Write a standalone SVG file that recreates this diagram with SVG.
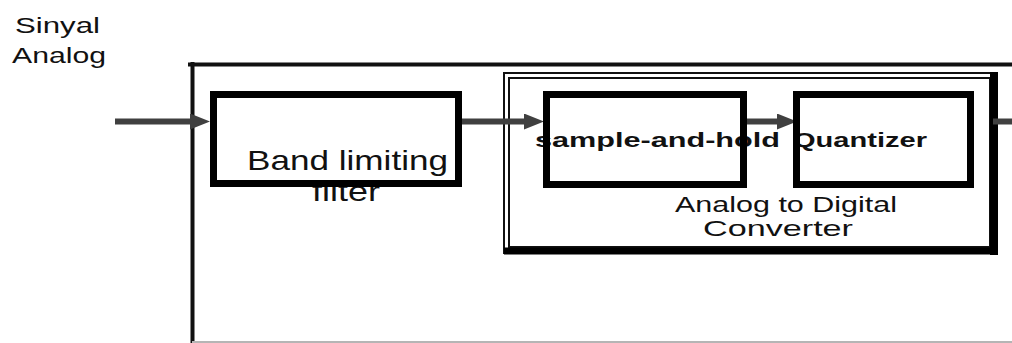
<svg xmlns="http://www.w3.org/2000/svg" width="1012" height="343" viewBox="0 0 1012 343">
<defs>
<style>
.t{font-family:"Liberation Sans",Arial,sans-serif;fill:#111;}
.b{font-weight:bold;}
.box{fill:none;stroke:#000;stroke-width:7;}
.conn{stroke:#404040;stroke-width:6;fill:none;}
.frame{stroke:#111;stroke-width:4;fill:none;}
.thin{stroke:#111;stroke-width:2;fill:none;}
</style>
<marker id="ah" viewBox="0 0 20 16" refX="0" refY="8" markerWidth="20" markerHeight="16" markerUnits="userSpaceOnUse" orient="auto">
<path d="M0,0 L20,8 L0,16 z" fill="#404040"/>
</marker>
</defs>
<rect width="1012" height="343" fill="#fff"/>
<g id="system-frame">
<line class="frame" x1="192.5" y1="62" x2="192.5" y2="343"/>
<line class="frame" x1="188" y1="64.5" x2="1012" y2="64.5"/>
<line x1="192" y1="342" x2="1012" y2="342" stroke="#b5b5b5" stroke-width="2"/>
</g>
<g id="label-sinyal">
<text class="t" x="15" y="33" font-size="22" textLength="85" lengthAdjust="spacingAndGlyphs">Sinyal</text>
<text class="t" x="12" y="63" font-size="22" textLength="94" lengthAdjust="spacingAndGlyphs">Analog</text>
</g>
<g id="adc">
<rect class="thin" x="504" y="73" width="492" height="180"/>
<rect class="thin" x="509" y="78" width="481" height="169"/>
<line x1="994" y1="72" x2="994" y2="255" stroke="#000" stroke-width="8"/>
<line x1="504" y1="251" x2="998" y2="251" stroke="#000" stroke-width="7"/>
<text class="t" x="675" y="212" font-size="22" textLength="222" lengthAdjust="spacingAndGlyphs">Analog to Digital</text>
<text class="t" x="703" y="236" font-size="22" textLength="150" lengthAdjust="spacingAndGlyphs">Converter</text>
</g>
<g id="connectors">
<line class="conn" x1="115" y1="121.5" x2="190" y2="121.5" marker-end="url(#ah)"/>
<line class="conn" x1="462" y1="121.5" x2="524" y2="121.5" marker-end="url(#ah)"/>
<line class="conn" x1="747" y1="121.5" x2="777" y2="121.5" marker-end="url(#ah)"/>
<line class="conn" x1="993" y1="121.5" x2="1012" y2="121.5"/>
</g>
<g id="filter">
<text class="t" x="247" y="170" font-size="28" textLength="201" lengthAdjust="spacingAndGlyphs">Band limiting</text>
<text class="t" x="312" y="201" font-size="28" textLength="68" lengthAdjust="spacingAndGlyphs">filter</text>
<rect class="box" x="213.5" y="94.5" width="245" height="89"/>
<line x1="211" y1="91" x2="211" y2="187" stroke="#000" stroke-width="2"/>
</g>
<g id="sample-and-hold">
<text class="t b" x="535" y="147" font-size="21" textLength="245" lengthAdjust="spacingAndGlyphs">sample-and-hold</text>
<rect class="box" x="546.5" y="94.5" width="197" height="90"/>
</g>
<g id="quantizer">
<text class="t b" x="793" y="147" font-size="21" textLength="134" lengthAdjust="spacingAndGlyphs">Quantizer</text>
<rect class="box" x="796.5" y="94.5" width="174" height="90"/>
</g>
</svg>
